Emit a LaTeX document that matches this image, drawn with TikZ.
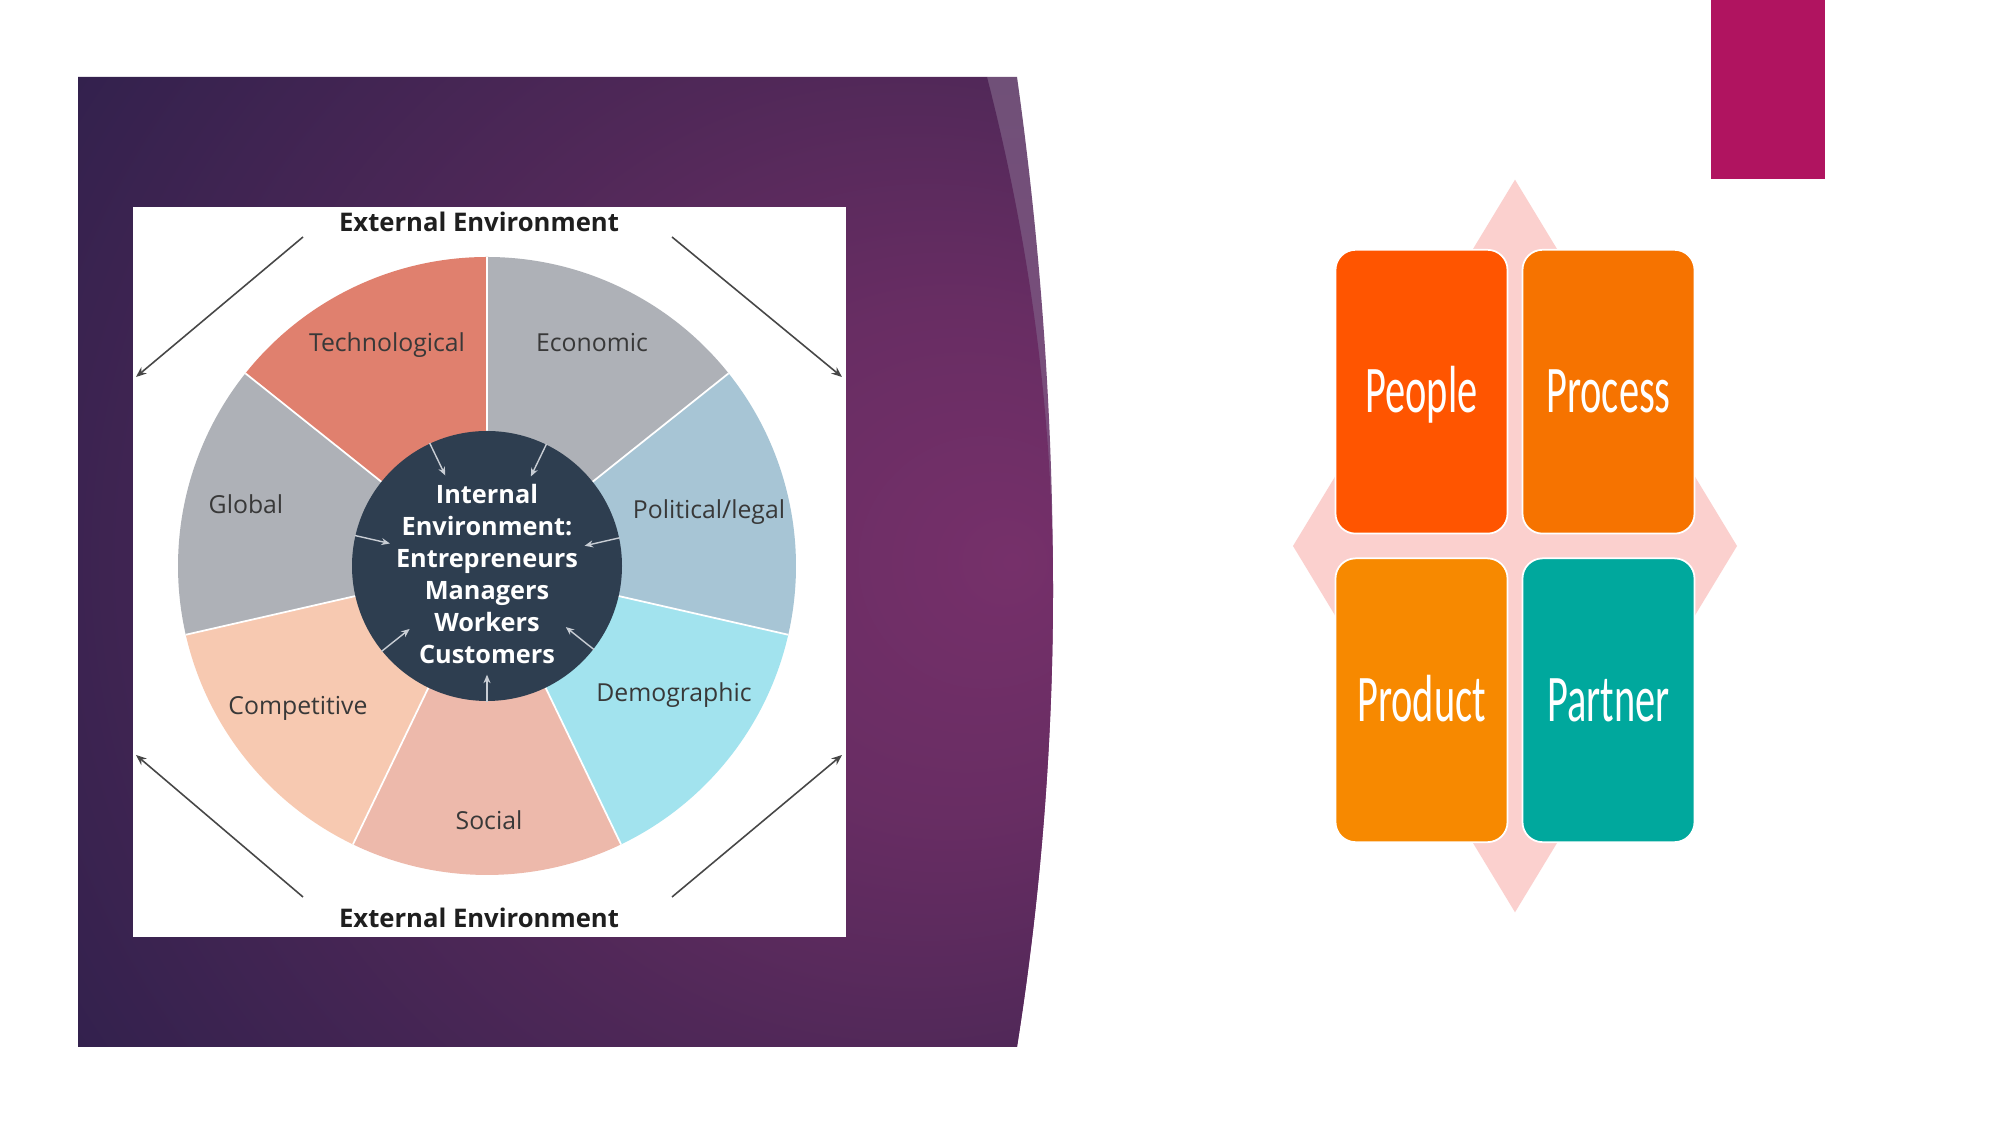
\documentclass[tikz,border=0pt]{standalone}
\usepackage{fontspec}
\setmainfont{Open Sans}
\newfontfamily\smartfont{Carlito}
\usetikzlibrary{arrows.meta}

\definecolor{paneldark}{RGB}{42,31,74}
\definecolor{panelmid}{RGB}{80,40,88}
\definecolor{glowmid}{RGB}{104,45,99}
\definecolor{glowc}{RGB}{118,48,106}
\definecolor{bandtop}{RGB}{112,80,120}
\definecolor{bandbot}{RGB}{140,72,130}
\definecolor{techcol}{RGB}{224,128,110}
\definecolor{econcol}{RGB}{174,177,183}
\definecolor{polcol}{RGB}{167,197,213}
\definecolor{democol}{RGB}{162,227,238}
\definecolor{socialcol}{RGB}{237,185,171}
\definecolor{compcol}{RGB}{247,201,177}
\definecolor{innercol}{RGB}{46,62,80}
\definecolor{innerarrowcol}{RGB}{200,205,212}
\definecolor{pinkbg}{RGB}{251,208,206}
\definecolor{peoplecol}{RGB}{255,85,0}
\definecolor{processcol}{RGB}{246,115,0}
\definecolor{productcol}{RGB}{247,137,0}
\definecolor{partnercol}{RGB}{0,168,157}
\definecolor{magentabar}{RGB}{176,20,96}

\pgfdeclareradialshading{panelglow}{\pgfpoint{23bp}{0bp}}{color(0bp)=(glowc); color(13bp)=(glowmid); color(26bp)=(panelmid); color(51bp)=(paneldark); color(100bp)=(paneldark)}

\begin{document}
\begin{tikzpicture}[
    x=0.1mm, y=0.1mm,
    >=Stealth,
    sectorlabel/.style={font=\fontsize{7.05}{8.5}\selectfont, text=black!78},
    extlabel/.style={font=\bfseries\fontsize{7.3}{9}\selectfont, text=black!88},
    cornerarrow/.style={-{Stealth[length=3pt,width=2.4pt]}, draw=black!72, line width=0.45pt},
    innerarrow/.style={-{Stealth[length=2.4pt,width=2pt]}, draw=innerarrowcol, line width=0.4pt},
    matrixbox/.style={rectangle, rounded corners=2mm, minimum width=17.2mm,
        minimum height=17.2mm, inner sep=0pt, draw=white, line width=0.5pt,
        text=white, font=\smartfont\fontsize{11.5}{13}\selectfont,
        text height=7.3pt, text depth=0pt}
]
\useasboundingbox (0,0) rectangle (2001,1125);
\fill[white] (0,0) rectangle (2001,1125);

% --- Purple panel with light edge band ---
\shade[top color=bandtop, bottom color=bandbot] (987,1048) -- (1017,1048)
    .. controls (1041,877) and (1053,706) .. (1053,535)
    .. controls (1053,383) and (1041,230) .. (1017,78) -- (987,78) -- cycle;
\shade[shading=panelglow] (78,1048) -- (987,1048)
    .. controls (1031,877) and (1053,706) .. (1053,535)
    .. controls (1053,383) and (1041,230) .. (1017,78) -- (78,78) -- cycle;

% --- Figure box ---
\fill[white] (133,188) rectangle (846,918);
\coordinate (hub) at (487,559);

% --- Sectors ---
\fill[techcol] (hub) -- ++(90:309) arc[start angle=90, end angle=141.43, radius=309] -- cycle;
\fill[econcol] (hub) -- ++(38.57:309) arc[start angle=38.57, end angle=90, radius=309] -- cycle;
\fill[polcol] (hub) -- ++(-12.86:309) arc[start angle=-12.86, end angle=38.57, radius=309] -- cycle;
\fill[democol] (hub) -- ++(-64.29:309) arc[start angle=-64.29, end angle=-12.86, radius=309] -- cycle;
\fill[socialcol] (hub) -- ++(-115.71:309) arc[start angle=-115.71, end angle=-64.29, radius=309] -- cycle;
\fill[compcol] (hub) -- ++(-167.14:309) arc[start angle=-167.14, end angle=-115.71, radius=309] -- cycle;
\fill[econcol] (hub) -- ++(141.43:309) arc[start angle=141.43, end angle=192.86, radius=309] -- cycle;
\foreach \a in {90,38.57,-12.86,-64.29,-115.71,-167.14,141.43}
    \draw[white, line width=0.5pt] (hub) -- ++(\a:309);

% --- Sector labels ---
\node[sectorlabel] (tech) at (387,780) {Technological};
\node[sectorlabel] (econ) at (592,782) {Economic};
\node[sectorlabel] (pol) at (709,613) {Political/legal};
\node[sectorlabel] (demo) at (674,430) {Demographic};
\node[sectorlabel] (social) at (489,305) {Social};
\node[sectorlabel] (comp) at (298,417) {Competitive};
\node[sectorlabel] (global) at (246,621) {Global};

% --- Internal environment ---
\node[circle, fill=innercol, minimum size=27mm, inner sep=0pt] (internal) at (hub) {};
\foreach \a in {64.29,12.86,-38.57,-141.43,167.14,115.71}
    \draw[innerarrow] (internal.\a) -- ++(\a:-36);
\draw[innerarrow] (internal.-90) -- ++(0,27);
\node[text=white, align=center, font=\bfseries\fontsize{7.2}{9.1}\selectfont] (internaltext) at (487,551)
    {Internal\\Environment:\\Entrepreneurs\\Managers\\Workers\\Customers};

% --- External environment ---
\node[extlabel] (exttop) at (479,903) {External Environment};
\node[extlabel] (extbottom) at (479,207) {External Environment};
\draw[cornerarrow] (303,888) -- (136,748);
\draw[cornerarrow] (672,888) -- (842,748);
\draw[cornerarrow] (303,228) -- (136,370);
\draw[cornerarrow] (672,228) -- (842,370);

% --- Accent bar ---
\fill[magentabar] (1711,946) rectangle (1825,1125);

% --- Four P matrix ---
\begin{scope}[shift={(1515,579)}, yscale=1.65, transform shape]
\fill[pinkbg] (0,222) -- (222,0) -- (0,-222) -- (-222,0) -- cycle;
\node[matrixbox, fill=peoplecol] (people) at (-93.5,93.5) {People};
\node[matrixbox, fill=processcol] (process) at (93.5,93.5) {Process};
\node[matrixbox, fill=productcol] (product) at (-93.5,-93.5) {Product};
\node[matrixbox, fill=partnercol] (partner) at (93.5,-93.5) {Partner};
\end{scope}

\end{tikzpicture}
\end{document}
